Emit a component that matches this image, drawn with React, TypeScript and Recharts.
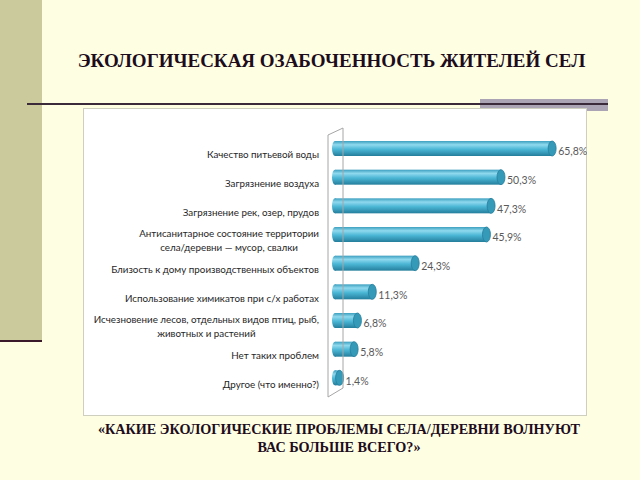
import React from 'react';
import { BarChart, Bar, XAxis, YAxis, LabelList, ReferenceLine } from 'recharts';

const categories = [
  'Качество питьевой воды',
  'Загрязнение воздуха',
  'Загрязнение рек, озер, прудов',
  'Антисанитарное состояние территории\nсела/деревни — мусор, свалки',
  'Близость к дому производственных объектов',
  'Использование химикатов при с/х работах',
  'Исчезновение лесов, отдельных видов птиц, рыб,\nживотных и растений',
  'Нет таких проблем',
  'Другое (что именно?)',
];
const values = [65.8, 50.3, 47.3, 45.9, 24.3, 11.3, 6.8, 5.8, 1.4];

const data = categories.map((name, i) => ({ name, value: values[i] }));

const LABEL_FONT = 'Lato, "Noto Sans", sans-serif';
const SERIF = 'serif';

function CylinderBar(props: any) {
  const { x, y, width, height } = props;
  if (!width || width <= 0) return null;
  const cy = y + height / 2;
  const ry = height / 2;
  return (
    <g>
      <rect x={x} y={y} width={width} height={height} fill="url(#cyl)" />
      <ellipse cx={x} cy={cy} rx={3} ry={ry} fill="url(#cyl)" />
      <ellipse cx={x + width} cy={cy} rx={4} ry={ry} fill="#3599b8" stroke="#277f9c" strokeWidth={0.8} />
    </g>
  );
}

function CategoryTick(props: any) {
  const { x, y, payload } = props;
  const lines = String(payload.value).split('\n');
  return (
    <foreignObject x={x - 300} y={y - 20 + 6} width={300} height={40}>
      <div
        style={{
          display: 'flex',
          alignItems: 'center',
          justifyContent: 'flex-end',
          height: '100%',
          fontFamily: LABEL_FONT,
          fontSize: 9.8,
          lineHeight: '14px',
          color: '#262626',
        }}
      >
        <div style={{ textAlign: 'center', whiteSpace: 'nowrap' }}>
          {lines.map((l, i) => (
            <div key={i}>{l}</div>
          ))}
        </div>
      </div>
    </foreignObject>
  );
}

function Wall(props: any) {
  const { x1, y1, y2 } = props;
  const top = Math.min(y1, y2);
  const bot = Math.max(y1, y2);
  const fx = x1 - 7;
  const bx = x1 + 8;
  const d = `M${fx},${bot + 5} L${fx},${top + 1} L${bx},${top - 6} M${bx},${top - 6} L${bx},${bot - 4} L${fx},${bot + 5}`;
  return <path d={d} stroke="#a6a6a6" strokeWidth={1} fill="none" />;
}

export default function App() {
  return (
    <div
      style={{
        position: 'absolute',
        left: 0,
        top: 0,
        width: 640,
        height: 480,
        background: '#fefee2',
        overflow: 'hidden',
      }}
    >
      <div style={{ position: 'absolute', left: 0, top: 0, width: 42, height: 341, background: '#caca9c' }} />
      <div style={{ position: 'absolute', left: 0, top: 340, width: 42, height: 2, background: '#3a1a2a' }} />

      <div
        style={{
          position: 'absolute',
          left: 0,
          width: 663,
          top: 50,
          textAlign: 'center',
          fontFamily: SERIF,
          fontWeight: 'bold',
          fontSize: 19,
          lineHeight: '22px',
          color: '#1c0c1c',
        }}
      >
        ЭКОЛОГИЧЕСКАЯ ОЗАБОЧЕННОСТЬ ЖИТЕЛЕЙ СЕЛ
      </div>

      <div style={{ position: 'absolute', left: 480, top: 99, width: 128, height: 12, background: '#aaa4b4' }} />
      <div style={{ position: 'absolute', left: 27, top: 103, width: 581, height: 2, background: '#3a2a3a' }} />

      <div
        style={{
          position: 'absolute',
          left: 83,
          top: 108,
          width: 502,
          height: 306,
          background: '#ffffff',
          border: '1px solid #cfcfc0',
        }}
      >
        <BarChart
          width={504}
          height={308}
          data={data}
          layout="vertical"
          margin={{ top: 26, right: 21, bottom: 24, left: 0 }}
          barCategoryGap={0}
          style={{ position: 'absolute', left: -1, top: -1 }}
        >
          <defs>
            <linearGradient id="cyl" x1="0" y1="0" x2="0" y2="1">
              <stop offset="0%" stopColor="#3c9fbf" />
              <stop offset="25%" stopColor="#8fd9ee" />
              <stop offset="55%" stopColor="#4cb7d6" />
              <stop offset="100%" stopColor="#247e9c" />
            </linearGradient>
          </defs>
          <XAxis type="number" domain={[0, 70]} hide />
          <YAxis
            type="category"
            dataKey="name"
            width={252}
            axisLine={false}
            tickLine={false}
            tickSize={0}
            tickMargin={16}
            interval={0}
            tick={<CategoryTick />}
          />
          <ReferenceLine x={0} shape={<Wall />} ifOverflow="visible" />
          <Bar dataKey="value" barSize={15} shape={<CylinderBar />} isAnimationActive={false}>
            <LabelList
              dataKey="value"
              position="right"
              offset={6}
              dy={3}
              formatter={(v: any) => String(v).replace('.', ',') + '%'}
              style={{ fontFamily: LABEL_FONT, fontSize: 10.5, fill: '#595959' }}
            />
          </Bar>
        </BarChart>
      </div>

      <div
        style={{
          position: 'absolute',
          left: 0,
          width: 678,
          top: 420,
          textAlign: 'center',
          fontFamily: SERIF,
          fontWeight: 'bold',
          fontSize: 14.2,
          lineHeight: '18px',
          color: '#1c0c1c',
        }}
      >
        «КАКИЕ ЭКОЛОГИЧЕСКИЕ ПРОБЛЕМЫ СЕЛА/ДЕРЕВНИ ВОЛНУЮТ
        <br />
        ВАС БОЛЬШЕ ВСЕГО?»
      </div>
    </div>
  );
}
